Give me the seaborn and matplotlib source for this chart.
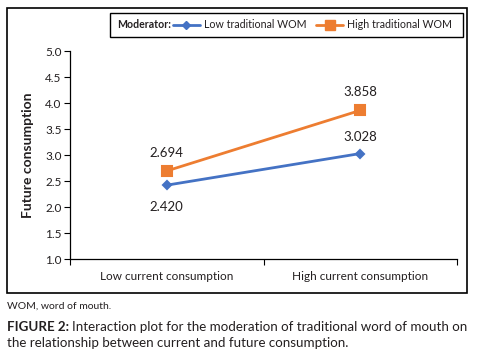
import pandas as pd
import seaborn as sns
import matplotlib.pyplot as plt
from matplotlib.lines import Line2D
from matplotlib.patches import Rectangle

# data
current = ["Low current consumption", "High current consumption"]
low_wom = [2.420, 3.028]
high_wom = [2.694, 3.858]
groups = ["Low traditional WOM", "High traditional WOM"]
colors = ["#4472C4", "#ED7D31"]
y_ticks = [1.0, 1.5, 2.0, 2.5, 3.0, 3.5, 4.0, 4.5, 5.0]

df = pd.DataFrame({
    "current": current * 2,
    "future": low_wom + high_wom,
    "moderator": [groups[0]] * 2 + [groups[1]] * 2,
})

sns.set_style("white")
plt.rcParams["font.family"] = ["Lato", "DejaVu Sans"]
txt = "#231f20"

fig = plt.figure(figsize=(4.84, 3.63), dpi=100)
ax = fig.add_axes([70 / 484, 1 - 259 / 363, 387 / 484, 208 / 363])

sns.pointplot(data=df, x="current", y="future", hue="moderator",
              order=current, hue_order=groups, palette=colors,
              markers=["D", "s"], linestyles="-", errorbar=None,
              markersize=5, linewidth=2.0, legend=False, ax=ax)
for ln in ax.lines:
    if ln.get_marker() == "s":
        ln.set_markersize(6.5)
    elif ln.get_marker() == "D":
        ln.set_markersize(4.5)

# value labels
for i, v in enumerate(low_wom):
    off = -16 if i == 0 else 12
    ax.annotate(f"{v:.3f}", (i, v), xytext=(0, off), textcoords="offset points",
                ha="center", va="center", fontsize=9.5, color=txt)
for i, v in enumerate(high_wom):
    ax.annotate(f"{v:.3f}", (i, v), xytext=(0, 13), textcoords="offset points",
                ha="center", va="center", fontsize=9.5, color=txt)

ax.set_xlim(-0.5, 1.5)
ax.set_ylim(1.0, 5.0)
ax.set_yticks(y_ticks)
ax.set_yticklabels([f"{t:.1f}" for t in y_ticks], fontsize=8.5, color=txt)
ax.set_xticks([0, 1])
ax.set_xticklabels(current, fontsize=8.5, color=txt)
ax.set_xticks([-0.5, 0.5, 1.5], minor=True)
ax.tick_params(axis="x", which="major", length=0, pad=9)
ax.tick_params(axis="x", which="minor", length=4, width=0.8, direction="out", color="black", bottom=True)
ax.tick_params(axis="y", length=4, width=0.8, direction="out", color="black", left=True, pad=2)
ax.set_xlabel("")
ax.set_ylabel("Future consumption", fontsize=10, fontweight="bold", color=txt, labelpad=8)
for s in ["top", "right"]:
    ax.spines[s].set_visible(False)
for s in ["left", "bottom"]:
    ax.spines[s].set_color("black")
    ax.spines[s].set_linewidth(0.9)

renderer = fig.canvas.get_renderer()
inv = fig.transFigure.inverted()

# legend with box and "Moderator:" prefix
fig.patches.append(Rectangle((110 / 484, 1 - 37 / 363), 353 / 484, 24 / 363,
                             transform=fig.transFigure, fill=False, lw=1, ec="black"))
mod = fig.text(117 / 484, 1 - 25 / 363, "Moderator:", fontsize=7.6, fontweight="bold",
               va="center", ha="left", color=txt)
mod_end = inv.transform(mod.get_window_extent(renderer).get_points())[1][0]
handles = [Line2D([], [], color=colors[0], marker="D", markersize=4.5, lw=2),
           Line2D([], [], color=colors[1], marker="s", markersize=6.5, lw=2)]
fig.legend(handles, groups, loc="center left", bbox_to_anchor=(mod_end + 2 / 484, 1 - 25 / 363),
           ncol=2, frameon=False, fontsize=7.7, handlelength=2.5, handletextpad=0.4,
           columnspacing=0.9, borderaxespad=0, borderpad=0, labelcolor=txt)

# outer box around chart
fig.patches.append(Rectangle((7 / 484, 1 - 293 / 363), 460 / 484, 285 / 363,
                             transform=fig.transFigure, fill=False, lw=1.2, ec="black"))

# caption
fig.text(7 / 484, 1 - 306 / 363, "WOM, word of mouth.", fontsize=7.5, va="center", color=txt)
fig_lbl = fig.text(7 / 484, 1 - 327 / 363, "FIGURE 2:", fontsize=9.6, fontweight="bold",
                   va="center", color=txt)
lbl_end = inv.transform(fig_lbl.get_window_extent(renderer).get_points())[1][0]
fig.text(lbl_end + 3 / 484, 1 - 327 / 363,
         "Interaction plot for the moderation of traditional word of mouth on",
         fontsize=9.6, va="center", color=txt)
fig.text(7 / 484, 1 - 343 / 363,
         "the relationship between current and future consumption.",
         fontsize=9.6, va="center", color=txt)

fig.savefig("out.png", dpi=100)
